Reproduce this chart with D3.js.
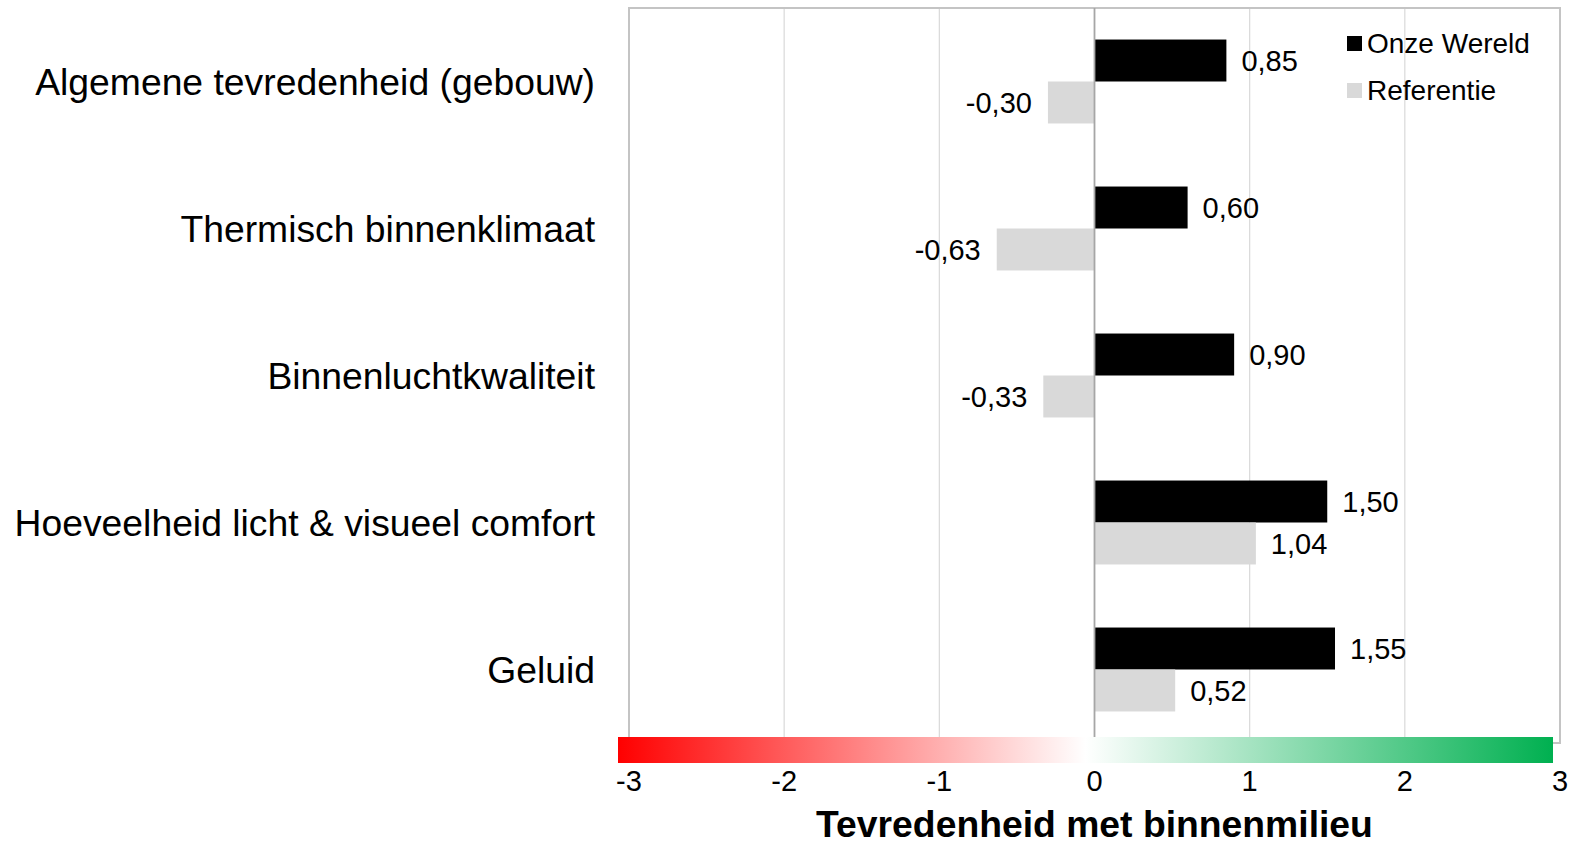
<!DOCTYPE html>
<html>
<head>
<meta charset="utf-8">
<script src="https://cdn.jsdelivr.net/npm/d3@7"></script>
<style>
  html, body { margin: 0; padding: 0; background: #fff; }
  svg { display: block; font-family: "Liberation Sans", Arial, sans-serif; }
</style>
</head>
<body>
<div id="chart"></div>
<script>
// Data
const categories = [
    "Algemene tevredenheid (gebouw)",
    "Thermisch binnenklimaat",
    "Binnenluchtkwaliteit",
    "Hoeveelheid licht & visueel comfort",
    "Geluid"
]
const seriesNames = ["Onze Wereld", "Referentie"]
const onzeWereld = [0.85, 0.60, 0.90, 1.50, 1.55]
const referentie = [-0.30, -0.63, -0.33, 1.04, 0.52]
const xTicks = [-3, -2, -1, 0, 1, 2, 3]
const axisTitle = "Tevredenheid met binnenmilieu"
const seriesColors = ["#000000", "#d9d9d9"]

const width = 1570, height = 845
const plot = { left: 629, right: 1560, top: 8, bottom: 743 }

const svg = d3.select("#chart").append("svg")
    .attr("width", width)
    .attr("height", height)

// Scales
const x = d3.scaleLinear().domain([-3, 3]).range([plot.left, plot.right])

const y0 = d3.scaleBand()
    .domain(categories)
    .range([plot.top, plot.bottom])
    .paddingInner(0.429)
    .paddingOuter(0.2145)

const y1 = d3.scaleBand()
    .domain(seriesNames)
    .range([0, y0.bandwidth()])

const color = d3.scaleOrdinal().domain(seriesNames).range(seriesColors)

// Rijen voor de staven
const rows = categories.map((c, i) => ({
    category: c,
    values: [
        { series: seriesNames[0], value: onzeWereld[i] },
        { series: seriesNames[1], value: referentie[i] }
    ]
}))

// Rasterlijnen
svg.append("g")
    .selectAll("line")
    .data(xTicks.filter(t => t !== 0 && Math.abs(t) !== 3))
    .join("line")
    .attr("x1", d => x(d)).attr("x2", d => x(d))
    .attr("y1", plot.top).attr("y2", plot.bottom)
    .attr("stroke", "#d9d9d9")
    .attr("stroke-width", 1.2)

// Kader
svg.append("rect")
    .attr("x", plot.left)
    .attr("y", plot.top)
    .attr("width", plot.right - plot.left)
    .attr("height", plot.bottom - plot.top)
    .attr("fill", "none")
    .attr("stroke", "#c4c4c4")
    .attr("stroke-width", 2)

// Staven
const groups = svg.append("g")
    .selectAll("g")
    .data(rows)
    .join("g")
    .attr("transform", d => `translate(0,${y0(d.category)})`)

groups.selectAll("rect")
    .data(d => d.values)
    .join("rect")
    .attr("x", d => x(Math.min(0, d.value)))
    .attr("y", d => y1(d.series))
    .attr("width", d => Math.abs(x(d.value) - x(0)))
    .attr("height", y1.bandwidth())
    .attr("fill", d => color(d.series))

// Waardelabels
const fmt = v => d3.format(".2f")(v).replace(".", ",").replace("−", "-")
groups.selectAll("text")
    .data(d => d.values)
    .join("text")
    .attr("x", d => d.value >= 0 ? x(d.value) + 15 : x(d.value) - 16)
    .attr("y", d => y1(d.series) + y1.bandwidth() / 2)
    .attr("dy", "0.35em")
    .attr("text-anchor", d => d.value >= 0 ? "start" : "end")
    .attr("font-size", 29)
    .attr("fill", "#000")
    .text(d => fmt(d.value))

// Nullijn
svg.append("line")
    .attr("x1", x(0)).attr("x2", x(0))
    .attr("y1", plot.top).attr("y2", plot.bottom)
    .attr("stroke", "#a6a6a6")
    .attr("stroke-width", 1.8)

// Categorielabels
svg.append("g")
    .selectAll("text")
    .data(categories)
    .join("text")
    .attr("x", 595)
    .attr("y", d => y0(d) + y0.bandwidth() / 2)
    .attr("dy", "0.35em")
    .attr("text-anchor", "end")
    .attr("font-size", 37.3)
    .attr("fill", "#000")
    .text(d => d)

// Kleurverloop onder de as
const defs = svg.append("defs")
const grad = defs.append("linearGradient").attr("id", "scaleGrad")
grad.append("stop").attr("offset", "0%").attr("stop-color", "#ff0000")
grad.append("stop").attr("offset", "50%").attr("stop-color", "#ffffff")
grad.append("stop").attr("offset", "100%").attr("stop-color", "#00b050")

svg.append("rect")
    .attr("x", x(-3) - 11)
    .attr("y", 737)
    .attr("width", x(3) - x(-3) + 4)
    .attr("height", 26)
    .attr("fill", "url(#scaleGrad)")

// As-labels
svg.append("g")
    .selectAll("text")
    .data(xTicks)
    .join("text")
    .attr("x", d => x(d))
    .attr("y", 791)
    .attr("text-anchor", "middle")
    .attr("font-size", 29)
    .attr("fill", "#000")
    .text(d => d < 0 ? "-" + Math.abs(d) : d)

// As-titel
svg.append("text")
    .attr("x", x(0))
    .attr("y", 837)
    .attr("text-anchor", "middle")
    .attr("font-size", 37.3)
    .attr("font-weight", "bold")
    .attr("fill", "#000")
    .text(axisTitle)

// Legenda
const legend = svg.append("g").attr("transform", "translate(1347,0)")
const legendY = [44, 91]
seriesNames.forEach((s, i) => {
    legend.append("rect")
        .attr("x", 0)
        .attr("y", legendY[i] - 8)
        .attr("width", 15)
        .attr("height", 15)
        .attr("fill", color(s))
    legend.append("text")
        .attr("x", 20)
        .attr("y", legendY[i] - 1)
        .attr("dy", "0.35em")
        .attr("font-size", 28)
        .attr("fill", "#000")
        .text(s)
})
</script>
</body>
</html>
